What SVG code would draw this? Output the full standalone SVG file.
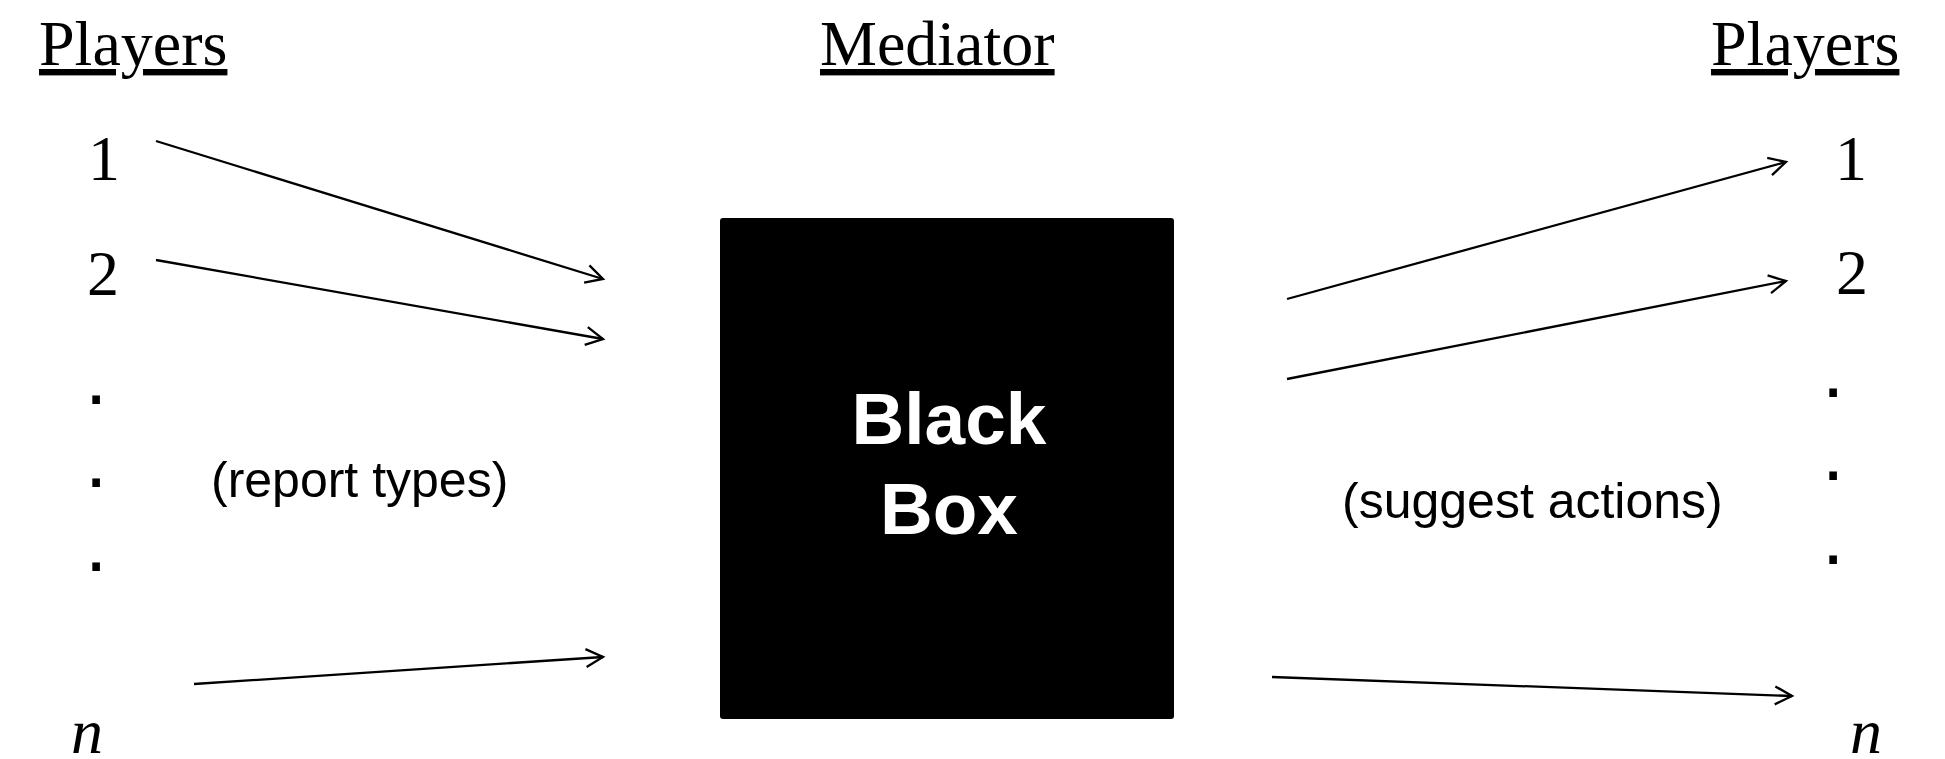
<svg xmlns="http://www.w3.org/2000/svg" width="1945" height="759" viewBox="0 0 1945 759">
  <style>
    .hdr { font-family: "Liberation Serif", "Times New Roman", serif; font-size: 64px; fill: #000; text-decoration: underline; }
    .num { font-family: "Liberation Serif", "Times New Roman", serif; font-size: 64px; fill: #000; text-anchor: middle; }
    .ital { font-style: italic; }
    .dot { font-family: "Liberation Sans", Arial, sans-serif; font-size: 80px; fill: #000; }
    .lbl { font-family: "Liberation Sans", Arial, sans-serif; font-size: 50px; fill: #000; }
    .box-text { font-family: "Liberation Sans", Arial, sans-serif; font-size: 73px; font-weight: bold; fill: #fff; text-anchor: middle; }
    .conn { stroke: #000; stroke-width: 2.3; fill: none; marker-end: url(#arr); }
  </style>
  <defs>
    <marker id="arr" markerUnits="userSpaceOnUse" markerWidth="40" markerHeight="40" refX="0" refY="0" orient="auto" overflow="visible">
      <path d="M -17 -9 L 0 0 L -17 9" fill="none" stroke="#000" stroke-width="2.3" stroke-linejoin="miter"/>
    </marker>
  </defs>
  <rect width="1945" height="759" fill="#fff"/>

  <g id="header-players-left"><text class="hdr" x="39" y="65">Players</text></g>
  <g id="header-mediator"><text class="hdr" x="820" y="65">Mediator</text></g>
  <g id="header-players-right"><text class="hdr" x="1711" y="65">Players</text></g>

  <g id="left-player-1"><text class="num" x="104" y="180">1</text></g>
  <g id="left-player-2"><text class="num" x="103" y="295">2</text></g>
  <g id="left-dots">
    <text class="dot" x="85" y="404">.</text>
    <text class="dot" x="85" y="487">.</text>
    <text class="dot" x="85" y="571">.</text>
  </g>
  <g id="left-player-n"><text class="num ital" x="87" y="753">n</text></g>

  <g id="right-player-1"><text class="num" x="1851" y="180">1</text></g>
  <g id="right-player-2"><text class="num" x="1852" y="294">2</text></g>
  <g id="right-dots">
    <text class="dot" x="1822" y="397">.</text>
    <text class="dot" x="1822" y="480">.</text>
    <text class="dot" x="1822" y="564">.</text>
  </g>
  <g id="right-player-n"><text class="num ital" x="1866" y="753">n</text></g>

  <g id="black-box">
    <rect x="720" y="218" width="454" height="501" rx="3" ry="3" fill="#000"/>
    <text class="box-text" x="949" y="444">Black</text>
    <text class="box-text" x="949" y="534">Box</text>
  </g>

  <g id="label-report"><text class="lbl" x="211" y="497">(report types)</text></g>
  <g id="label-suggest"><text class="lbl" x="1342" y="518">(suggest actions)</text></g>

  <g id="connectors">
    <line class="conn" x1="156" y1="141" x2="603" y2="279"/>
    <line class="conn" x1="156" y1="260" x2="603" y2="339"/>
    <line class="conn" x1="194" y1="684" x2="603" y2="657"/>
    <line class="conn" x1="1287" y1="299" x2="1786" y2="162"/>
    <line class="conn" x1="1287" y1="379" x2="1786" y2="281"/>
    <line class="conn" x1="1272" y1="677" x2="1792" y2="696"/>
  </g>
</svg>
